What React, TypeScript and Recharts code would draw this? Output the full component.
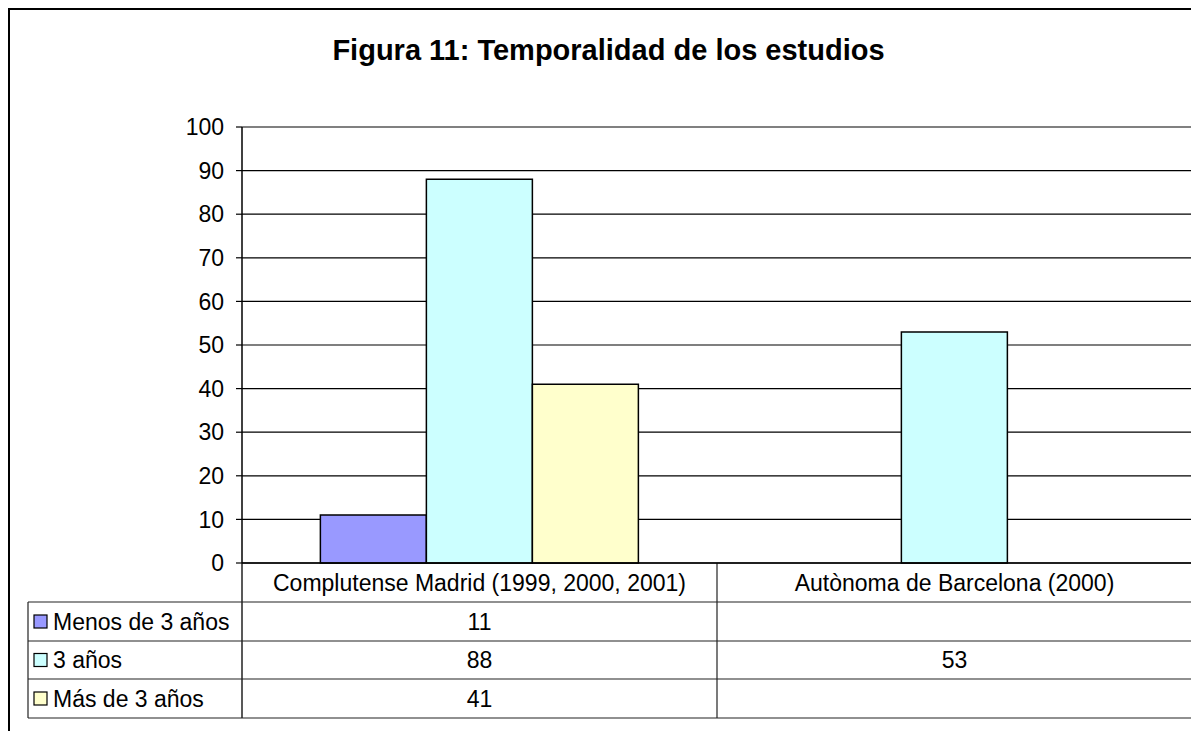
import React from "react";
import { BarChart, Bar, XAxis, YAxis, CartesianGrid, Customized } from "recharts";

const categories = ["Complutense Madrid (1999, 2000, 2001)", "Autònoma de Barcelona (2000)"];
const menosDe3 = [11, null];
const tres = [88, 53];
const masDe3 = [41, null];
const seriesNames = ["Menos de 3 años", "3 años", "Más de 3 años"];
const seriesKeys = ["menos", "tres", "mas"];
const seriesColors = ["#9999FF", "#CCFFFF", "#FFFFCC"];
const yTicks = [0, 10, 20, 30, 40, 50, 60, 70, 80, 90, 100];
const title = "Figura 11: Temporalidad de los estudios";

const seriesValues = [menosDe3, tres, masDe3];
const data = categories.map((c, i) => ({
  name: c,
  menos: menosDe3[i],
  tres: tres[i],
  mas: masDe3[i],
}));

const FONT = "'Liberation Sans', Arial, sans-serif";
const W = 1191;
const H = 723;
const PLOT_LEFT = 234;
const PLOT_RIGHT = 1184;
const PLOT_TOP = 119;
const PLOT_BOTTOM = 555;
const ROWS = [PLOT_BOTTOM, 594, 633, 671, 710];
const LEG_LEFT = 20;
const FS = 23;

const CategoryTick = (props: any) => {
  const { x, payload } = props;
  const idx = categories.indexOf(payload.value);
  return (
    <g>
      <text
        x={x}
        y={(ROWS[0] + ROWS[1]) / 2}
        textAnchor="middle"
        dominantBaseline="central"
        fontFamily={FONT}
        fontSize={FS}
        fill="#000"
      >
        {payload.value}
      </text>
      {seriesValues.map((vals, s) =>
        vals[idx] == null ? null : (
          <text
            key={s}
            x={x}
            y={(ROWS[s + 1] + ROWS[s + 2]) / 2}
            textAnchor="middle"
            dominantBaseline="central"
            fontFamily={FONT}
            fontSize={FS}
            fill="#000"
          >
            {vals[idx]}
          </text>
        )
      )}
    </g>
  );
};

const TableLayer = () => {
  const mid = (PLOT_LEFT + PLOT_RIGHT) / 2;
  return (
    <g>
      <text
        x={600.5}
        y={52}
        textAnchor="middle"
        fontFamily={FONT}
        fontSize={29}
        fontWeight="bold"
        fill="#000"
      >
        {title}
      </text>
      {/* plot border top/right */}
      <line x1={PLOT_LEFT} y1={PLOT_TOP} x2={PLOT_RIGHT} y2={PLOT_TOP} stroke="#808080" strokeWidth={1.5} />
      <line x1={PLOT_RIGHT} y1={PLOT_TOP} x2={PLOT_RIGHT} y2={PLOT_BOTTOM} stroke="#808080" strokeWidth={1.5} />
      {/* table horizontal lines */}
      {ROWS.slice(1).map((y, i) => (
        <line key={i} x1={LEG_LEFT} y1={y} x2={PLOT_RIGHT} y2={y} stroke="#222" strokeWidth={1.2} />
      ))}
      {/* table verticals */}
      <line x1={LEG_LEFT} y1={ROWS[1]} x2={LEG_LEFT} y2={ROWS[4]} stroke="#222" strokeWidth={1.2} />
      <line x1={PLOT_LEFT} y1={ROWS[0]} x2={PLOT_LEFT} y2={ROWS[4]} stroke="#222" strokeWidth={1.5} />
      <line x1={mid} y1={ROWS[0]} x2={mid} y2={ROWS[4]} stroke="#222" strokeWidth={1.2} />
      <line x1={PLOT_RIGHT} y1={ROWS[0]} x2={PLOT_RIGHT} y2={ROWS[4]} stroke="#555" strokeWidth={1.5} />
      {/* legend keys */}
      {seriesNames.map((n, i) => {
        const cy = (ROWS[i + 1] + ROWS[i + 2]) / 2;
        return (
          <g key={n}>
            <rect x={26} y={cy - 6.5} width={13} height={13} fill={seriesColors[i]} stroke="#000" strokeWidth={1.2} />
            <text x={45} y={cy} dominantBaseline="central" fontFamily={FONT} fontSize={FS} fill="#000">
              {n}
            </text>
          </g>
        );
      })}
    </g>
  );
};

export default function App() {
  return (
    <div style={{ position: "relative", width: W, height: H, background: "#fff" }}>
      <div
        style={{
          position: "absolute",
          left: 0,
          top: 0,
          width: W,
          height: H,
          borderLeft: "2px solid #000",
          borderTop: "2px solid #000",
          boxSizing: "border-box",
        }}
      />
      <div style={{ position: "absolute", left: 0, top: 0 }}>
        <BarChart
          width={W}
          height={H}
          data={data}
          margin={{ top: PLOT_TOP, right: W - PLOT_RIGHT, left: PLOT_LEFT - 60, bottom: 0 }}
          barCategoryGap="16.5%"
          barGap={0}
        >
          <CartesianGrid vertical={false} stroke="#000" strokeWidth={1.2} />
          <XAxis
            dataKey="name"
            height={H - PLOT_BOTTOM}
            axisLine={{ stroke: "#000", strokeWidth: 1.5 }}
            tickLine={false}
            tick={<CategoryTick />}
            interval={0}
          />
          <YAxis
            width={60}
            domain={[0, 100]}
            ticks={yTicks}
            interval={0}
            axisLine={{ stroke: "#000", strokeWidth: 1.5 }}
            tickLine={{ stroke: "#000", strokeWidth: 1.2 }}
            tickSize={6}
            tickMargin={12}
            tick={{ fontFamily: FONT, fontSize: FS, fill: "#000" }}
          />
          {seriesKeys.map((k, i) => (
            <Bar
              key={k}
              dataKey={k}
              name={seriesNames[i]}
              fill={seriesColors[i]}
              stroke="#000"
              strokeWidth={1.5}
              isAnimationActive={false}
            />
          ))}
          <Customized component={TableLayer} />
        </BarChart>
      </div>
    </div>
  );
}
